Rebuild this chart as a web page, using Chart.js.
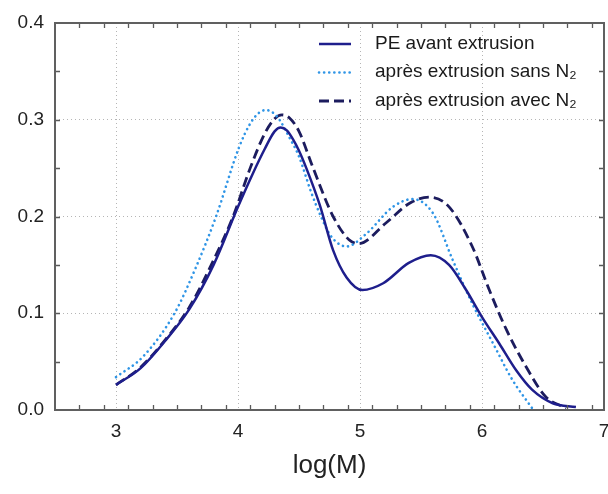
<!DOCTYPE html>
<html><head><meta charset="utf-8">
<script src="https://cdn.jsdelivr.net/npm/chart.js@4/dist/chart.umd.min.js"></script>
<style>html,body{margin:0;padding:0;background:#fff;}#wrap{width:608px;height:494px;}</style>
</head><body><div id="wrap"><canvas id="c" width="608" height="494"></canvas></div>
<script>
// ---- data ----
const seriesLabels = ['PE avant extrusion', 'après extrusion sans N₂', 'après extrusion avec N₂'];
const peAvantX = [3.0,3.2,3.4,3.6,3.8,4.0,4.12,4.22,4.3,4.35,4.4,4.45,4.5,4.56,4.67,4.78,4.89,5.02,5.19,5.4,5.58,5.73,5.87,6.0,6.14,6.28,6.41,6.58,6.77];
const peAvantY = [0.026,0.043,0.071,0.104,0.150,0.210,0.244,0.270,0.288,0.292,0.289,0.280,0.268,0.250,0.212,0.165,0.137,0.124,0.131,0.152,0.160,0.150,0.124,0.096,0.069,0.041,0.021,0.007,0.003];
const sansN2X = [3.0,3.22,3.48,3.65,3.82,4.01,4.1,4.17,4.23,4.29,4.34,4.42,4.5,4.6,4.68,4.76,4.89,5.05,5.27,5.43,5.6,5.76,5.92,6.09,6.25,6.41];
const sansN2Y = [0.034,0.055,0.100,0.146,0.200,0.272,0.296,0.307,0.310,0.307,0.300,0.282,0.262,0.225,0.200,0.180,0.169,0.182,0.210,0.218,0.203,0.155,0.110,0.069,0.031,0.002];
const avecN2X = [3.0,3.2,3.4,3.6,3.8,3.96,4.1,4.22,4.3,4.36,4.42,4.5,4.61,4.78,4.91,4.99,5.21,5.41,5.57,5.73,5.92,6.06,6.2,6.36,6.52,6.69];
const avecN2Y = [0.026,0.044,0.072,0.106,0.155,0.200,0.250,0.286,0.301,0.305,0.302,0.288,0.252,0.200,0.176,0.172,0.193,0.214,0.220,0.210,0.169,0.124,0.083,0.045,0.014,0.002];
const xTickValues = [3, 4, 5, 6, 7];
const yTickValues = [0, 0.1, 0.2, 0.3, 0.4];
const xMinorStep = 0.2;
const yMinorStep = 0.05;
const xAxisTitle = 'log(M)';

const pts = (xs, ys) => xs.map((x, i) => ({x: x, y: ys[i]}));
const FONT = "'Liberation Sans', Arial, sans-serif";

const frameTicks = {
  id: 'frameTicks',
  afterDraw(chart) {
    const ctx = chart.ctx, a = chart.chartArea;
    const xs = chart.scales.x, ys = chart.scales.y;
    ctx.save();
    ctx.strokeStyle = '#5a5a5a';
    ctx.lineWidth = 1.3;
    const minor = [], minorY = [];
    for (let v = xs.min + xMinorStep; v < xs.max - 1e-9; v += xMinorStep) minor.push(v);
    for (let v = ys.min + yMinorStep; v < ys.max - 1e-9; v += yMinorStep) minorY.push(v);
    ctx.beginPath();
    minor.forEach(v => {
      const p = Math.round(xs.getPixelForValue(v)) + 0.5;
      ctx.moveTo(p, a.bottom); ctx.lineTo(p, a.bottom - 5);
      ctx.moveTo(p, a.top); ctx.lineTo(p, a.top + 5);
    });
    minorY.forEach(v => {
      const p = Math.round(ys.getPixelForValue(v)) + 0.5;
      ctx.moveTo(a.left, p); ctx.lineTo(a.left + 5, p);
      ctx.moveTo(a.right, p); ctx.lineTo(a.right - 5, p);
    });
    ctx.stroke();
    ctx.lineWidth = 2;
    ctx.strokeStyle = '#606060';
    ctx.strokeRect(a.left, a.top, a.right - a.left, a.bottom - a.top);
    // legend
    const ds = chart.data.datasets;
    ds.forEach((d, i) => {
      const lineY = a.top + 21 + i * 28.5;
      ctx.save();
      ctx.strokeStyle = d.borderColor;
      ctx.lineWidth = d.borderWidth;
      ctx.lineCap = d.borderCapStyle || 'butt';
      ctx.setLineDash(d.borderDash || []);
      ctx.beginPath();
      ctx.moveTo(a.left + 264, lineY);
      ctx.lineTo(a.left + 296, lineY);
      ctx.stroke();
      ctx.restore();
      ctx.fillStyle = '#1a1a1a';
      ctx.font = '19px ' + FONT;
      ctx.textBaseline = 'alphabetic';
      ctx.textAlign = 'left';
      ctx.fillText(d.label, a.left + 320, lineY + 4.5);
    });
    ctx.restore();
  }
};

new Chart(document.getElementById('c'), {
  type: 'line',
  data: {
    datasets: [
      {label: seriesLabels[0], data: pts(peAvantX, peAvantY), borderColor: '#1e1e8c', borderWidth: 2.5, borderDash: [], borderCapStyle: 'butt'},
      {label: seriesLabels[1], data: pts(sansN2X, sansN2Y), borderColor: '#2f95e6', borderWidth: 2.6, borderDash: [0.1, 5], borderCapStyle: 'round'},
      {label: seriesLabels[2], data: pts(avecN2X, avecN2Y), borderColor: '#1c1c5e', borderWidth: 2.8, borderDash: [10, 5], borderCapStyle: 'butt'}
    ]
  },
  options: {
    responsive: false,
    animation: false,
    devicePixelRatio: 1,
    layout: {padding: {top: 23, right: 4, left: 0, bottom: 0}},
    elements: {point: {radius: 0, hoverRadius: 0}, line: {cubicInterpolationMode: 'monotone', fill: false}},
    plugins: {legend: {display: false}, tooltip: {enabled: false}},
    scales: {
      x: {
        type: 'linear', min: 2.5, max: 7,
        afterBuildTicks: s => { s.ticks = xTickValues.map(v => ({value: v})); },
        afterFit: s => { s.height = 84; s.paddingLeft = 0; s.paddingRight = 0; },
        ticks: {font: {size: 19, family: FONT}, color: '#222', padding: 10, maxRotation: 0, autoSkip: false, callback: v => String(v)},
        grid: {color: '#b5b5b5', lineWidth: 1, drawTicks: false},
        border: {display: false, dash: [1, 3]},
        title: {display: true, text: xAxisTitle, font: {size: 26, family: FONT}, color: '#222', padding: {top: 0, bottom: 13}}
      },
      y: {
        type: 'linear', min: 0, max: 0.4,
        afterBuildTicks: s => { s.ticks = yTickValues.map(v => ({value: v})); },
        afterFit: s => { s.width = 55; s.paddingTop = 0; s.paddingBottom = 0; },
        ticks: {font: {size: 19, family: FONT}, color: '#222', padding: 11, callback: v => Number(v).toFixed(1)},
        grid: {color: '#b5b5b5', lineWidth: 1, drawTicks: false},
        border: {display: false, dash: [1, 3]}
      }
    }
  },
  plugins: [frameTicks]
});
</script></body></html>
